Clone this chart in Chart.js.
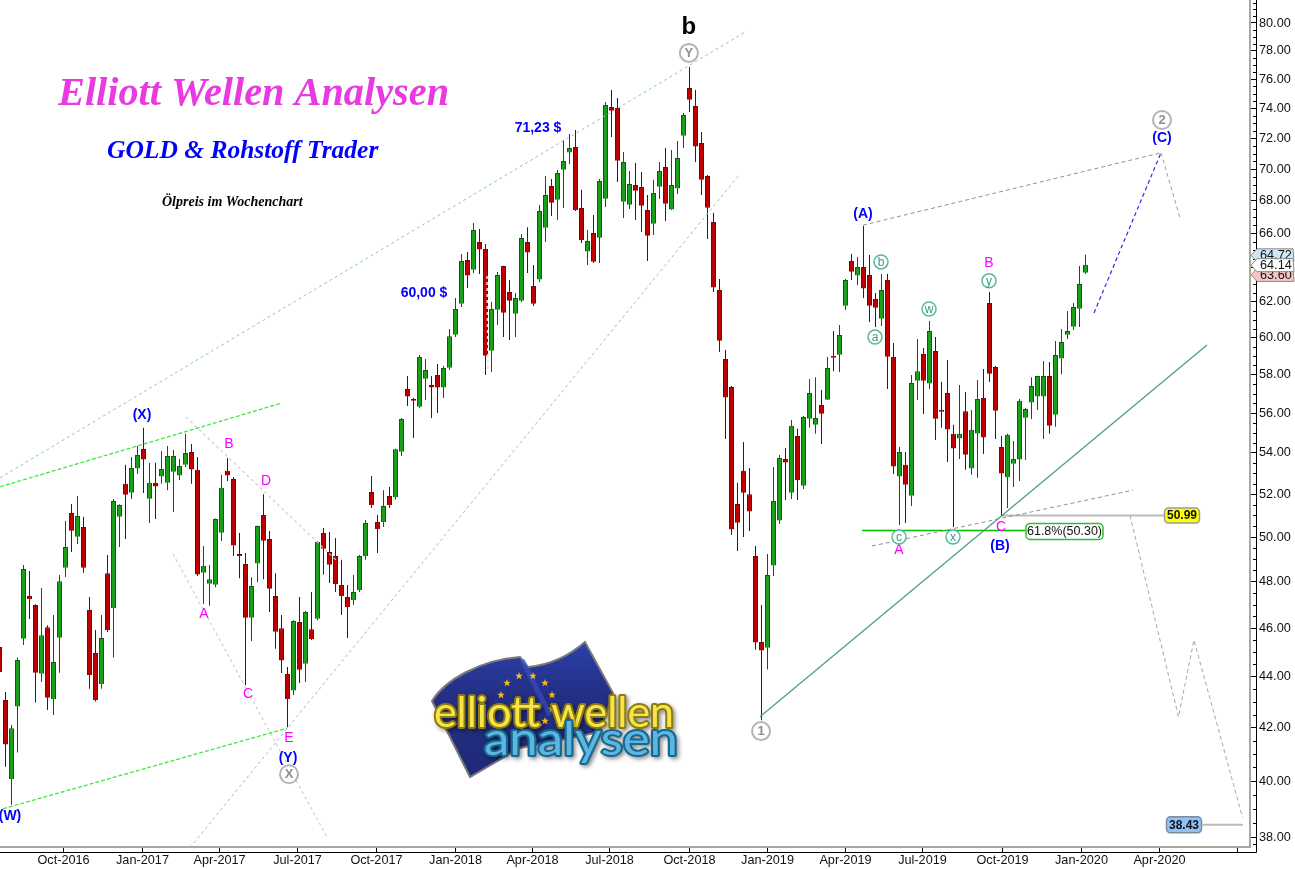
<!DOCTYPE html>
<html lang="de">
<head>
<meta charset="utf-8">
<title>Elliott Wellen Analysen</title>
<script src="https://cdn.jsdelivr.net/npm/chart.js@4/dist/chart.umd.js"></script>
<style>
  html, body { margin: 0; padding: 0; background: #fff; }
  canvas { display: block; }
</style>
</head>
<body>
<canvas id="chart" width="1295" height="869"></canvas>
<script>
// Wochenkerzen, erste Kerze liegt auf Woche -1
const ersteWoche = -1;
const opens = [
  45.22, 43.08, 40.07, 42.82, 45.56, 47.38, 46.99, 44.12, 46.04, 43.11,
  45.60, 48.62, 51.11, 50.01, 50.46, 46.77, 44.97, 43.71, 48.37, 46.85,
  50.94, 52.49, 52.06, 53.23, 54.19, 51.78, 52.54, 52.84, 52.55, 53.08,
  52.89, 53.42, 54.04, 53.17, 48.39, 47.91, 47.86, 50.20, 53.12, 52.73,
  49.23, 48.78, 46.44, 48.80, 51.02, 49.91, 47.38, 46.00, 44.11, 43.45,
  46.26, 44.53, 45.96, 46.40, 50.18, 49.32, 49.14, 47.85, 47.33, 47.20,
  47.63, 49.14, 52.10, 50.69, 50.69, 51.91, 51.85, 54.06, 57.25, 56.73,
  56.33, 57.79, 57.46, 57.98, 57.32, 58.37, 60.16, 61.89, 64.42, 63.84,
  65.48, 65.07, 59.29, 61.55, 64.06, 62.56, 61.33, 62.06, 65.48, 62.90,
  63.27, 66.34, 68.93, 68.06, 69.96, 71.06, 71.43, 67.55, 64.91, 66.02,
  65.74, 68.13, 74.08, 74.01, 67.94, 67.75, 68.99, 68.86, 67.43, 66.59,
  68.88, 70.13, 67.45, 68.76, 72.17, 75.39, 74.15, 71.69, 69.56, 66.69,
  62.67, 58.84, 57.35, 51.53, 53.12, 52.00, 49.14, 45.42, 45.19, 48.71,
  50.76, 53.70, 52.06, 54.84, 52.40, 55.71, 55.41, 56.42, 56.69, 59.00,
  59.07, 61.78, 64.36, 63.50, 64.00, 63.54, 62.16, 61.05, 63.25, 58.95,
  52.84, 53.41, 51.92, 57.68, 59.11, 57.53, 59.27, 56.16, 57.04, 54.95,
  54.71, 56.10, 53.23, 54.96, 56.78, 61.93, 58.41, 54.29, 52.81, 53.47,
  53.67, 55.76, 56.54, 56.85, 56.85, 57.93, 55.91, 58.86, 60.16, 60.60,
  61.61, 63.67
];
const highs = [
  45.51, 43.39, 42.10, 44.78, 48.74, 48.47, 47.02, 47.72, 46.13, 46.56,
  48.29, 50.74, 51.53, 51.91, 50.93, 47.33, 45.92, 46.56, 49.19, 51.77,
  51.52, 53.41, 53.80, 54.34, 55.25, 53.51, 53.51, 54.09, 54.34, 54.14,
  53.70, 54.95, 54.44, 53.80, 49.59, 48.74, 50.85, 52.93, 53.75, 52.82,
  50.18, 49.28, 48.20, 50.53, 52.00, 50.28, 48.37, 46.56, 44.40, 46.34,
  47.33, 46.73, 47.55, 49.82, 50.42, 50.23, 49.95, 48.97, 47.85, 48.29,
  49.19, 50.79, 52.87, 51.02, 52.19, 52.34, 54.20, 55.75, 57.93, 56.78,
  59.06, 58.84, 57.93, 58.57, 58.46, 60.48, 62.21, 64.77, 64.89, 66.63,
  66.26, 65.37, 61.98, 63.71, 64.08, 63.25, 62.50, 65.96, 66.37, 64.12,
  67.74, 69.56, 69.37, 69.94, 71.88, 72.28, 72.55, 68.68, 66.20, 67.12,
  69.37, 74.42, 75.25, 74.70, 71.10, 69.87, 70.39, 69.81, 68.36, 69.31,
  70.45, 71.36, 71.23, 71.82, 73.68, 76.85, 75.25, 72.41, 69.62, 67.25,
  63.31, 59.33, 57.41, 52.54, 54.54, 53.26, 49.59, 46.99, 49.23, 53.31,
  53.89, 54.24, 55.65, 55.20, 55.85, 57.77, 57.87, 57.20, 58.95, 60.36,
  60.70, 63.31, 64.77, 64.59, 66.44, 64.71, 62.50, 63.60, 63.60, 59.70,
  54.29, 54.04, 57.98, 59.92, 59.43, 60.92, 60.03, 57.61, 58.79, 55.40,
  57.46, 57.09, 56.16, 57.72, 58.30, 62.56, 58.46, 54.84, 54.95, 54.59,
  56.73, 56.26, 57.87, 57.95, 58.73, 58.68, 59.81, 60.48, 61.48, 61.93,
  64.06, 64.72
];
const lows = [
  43.87, 40.53, 39.14, 41.06, 45.30, 46.39, 42.98, 43.79, 42.69, 42.49,
  44.16, 48.21, 49.32, 49.68, 48.39, 43.52, 43.02, 43.52, 45.84, 44.78,
  49.55, 49.91, 51.77, 52.97, 52.05, 50.65, 50.83, 52.49, 52.19, 51.16,
  52.68, 53.31, 52.49, 48.25, 47.03, 46.95, 47.76, 49.82, 52.63, 49.14,
  48.15, 43.67, 45.47, 47.98, 48.11, 46.69, 45.14, 44.15, 42.02, 43.28,
  43.75, 43.79, 45.51, 46.34, 48.32, 47.94, 47.55, 46.56, 45.59, 46.99,
  47.55, 48.97, 51.35, 49.28, 50.46, 51.35, 51.75, 53.84, 56.36, 54.74,
  56.26, 56.68, 55.75, 56.00, 56.78, 58.25, 60.03, 61.70, 62.79, 63.65,
  63.60, 57.98, 58.14, 60.70, 60.03, 59.87, 60.03, 61.98, 63.65, 61.76,
  63.13, 65.48, 67.06, 66.82, 67.55, 70.32, 67.37, 65.42, 64.12, 64.24,
  64.24, 67.61, 72.08, 69.18, 66.94, 67.49, 66.82, 66.08, 64.36, 65.90,
  68.11, 66.75, 67.43, 68.42, 71.36, 73.75, 70.45, 68.36, 65.66, 62.56,
  59.22, 54.69, 50.09, 49.37, 50.00, 50.28, 45.10, 42.29, 44.30, 48.25,
  50.60, 51.72, 51.77, 51.72, 52.24, 55.25, 54.95, 54.44, 56.68, 58.19,
  58.14, 61.54, 63.25, 62.96, 62.21, 60.87, 60.59, 60.64, 57.25, 52.97,
  50.55, 50.65, 51.44, 56.68, 55.95, 57.25, 54.64, 55.25, 53.55, 50.46,
  53.70, 53.17, 52.93, 52.78, 53.94, 57.61, 54.69, 50.97, 51.35, 52.34,
  52.63, 53.65, 55.70, 56.16, 54.69, 54.95, 55.30, 58.03, 59.92, 60.42,
  60.59, 63.60
];
const closes = [
  44.19, 41.36, 41.98, 44.68, 48.56, 47.25, 44.16, 45.71, 43.17, 44.60,
  48.02, 49.55, 50.29, 50.97, 48.62, 44.07, 43.08, 45.59, 45.92, 51.67,
  51.49, 51.97, 53.26, 53.89, 53.67, 52.54, 52.36, 53.21, 53.84, 53.84,
  53.36, 53.99, 53.18, 48.32, 48.70, 48.11, 50.83, 52.30, 52.89, 49.61,
  49.14, 46.44, 47.81, 50.51, 49.83, 47.69, 45.85, 44.66, 43.12, 46.30,
  44.29, 46.69, 45.55, 49.77, 49.47, 48.75, 47.89, 47.38, 46.90, 47.55,
  49.14, 50.65, 51.49, 50.37, 51.44, 51.49, 54.18, 55.70, 56.85, 56.63,
  58.95, 58.25, 57.32, 57.32, 58.36, 60.08, 61.59, 64.36, 63.50, 66.20,
  65.03, 59.02, 61.59, 63.54, 61.38, 62.06, 62.21, 65.72, 64.85, 61.89,
  67.37, 68.36, 67.88, 69.75, 70.52, 71.36, 67.43, 65.60, 65.54, 64.31,
  69.24, 74.22, 73.83, 70.54, 70.45, 69.05, 68.63, 67.69, 65.86, 68.49,
  69.87, 67.82, 68.99, 70.71, 73.55, 74.58, 71.45, 69.32, 67.57, 62.81,
  59.83, 56.80, 50.34, 50.66, 52.06, 51.18, 45.40, 45.07, 48.29, 51.67,
  53.75, 53.52, 55.35, 52.66, 55.80, 57.04, 55.75, 55.96, 58.36, 58.91,
  60.14, 63.25, 63.73, 64.00, 62.75, 61.78, 61.66, 62.67, 58.96, 53.33,
  54.04, 52.45, 57.56, 58.19, 57.68, 60.36, 55.71, 56.07, 55.16, 54.21,
  54.95, 53.91, 55.15, 56.73, 54.76, 58.05, 56.12, 52.99, 54.90, 53.70,
  56.63, 56.21, 57.41, 57.93, 57.93, 55.36, 59.06, 59.76, 60.36, 61.70,
  63.02, 64.14
];

const priceTicks = [38, 40, 42, 44, 46, 48, 50, 52, 54, 56, 58, 60, 62, 64, 66, 68, 70, 72, 74, 76, 78, 80];
const quarterWeeks = [9.67, 22.83, 35.67, 48.67, 61.83, 75, 87.83, 100.67, 114, 127, 140, 152.83, 166.17, 179.33, 192.33, 205.33];
const quarterLabels = ['Oct-2016', 'Jan-2017', 'Apr-2017', 'Jul-2017', 'Oct-2017', 'Jan-2018', 'Apr-2018', 'Jul-2018',
  'Oct-2018', 'Jan-2019', 'Apr-2019', 'Jul-2019', 'Oct-2019', 'Jan-2020', 'Apr-2020', ''];

// Linien: [Woche, Preis]
const kanalOben = [[-0.92, 52.78], [123.58, 79.42]];
const kanalUnten = [[30.75, 37.64], [122.25, 69.62]];
const gruenOben = [[-0.92, 52.35], [46.08, 56.52]];
const gruenUnten = [[-0.42, 39.0], [46.92, 41.98]];
const grauAbwaerts = [[27.92, 49.23], [53.58, 38.0]];
const grauDreieck = [[30.08, 55.8], [55.75, 48.79]];
const trendLinie = [[125.75, 42.42], [200.25, 59.6]];
const dachLinie = [[142.92, 66.5], [192.58, 71.05]];
const bodenLinie = [[144.42, 49.59], [187.92, 52.19]];
const wellenC = [[181.42, 61.37], [192.58, 71.05]];
const nachC = [[192.58, 71.05], [195.75, 66.94]];
const prognose = [[187.42, 51.0], [195.5, 42.42], [198.08, 45.51], [206.17, 38.69]];
const fibLinie = [[142.75, 50.3], [169.92, 50.3]];
const level5099 = [[166.08, 50.99], [193.25, 50.99]];
const level3843 = [[199.5, 38.43], [206.25, 38.43]];
const punktLinie = [[80.25, 63.48], [80.42, 58.14]];

const ROT = '#BE0000';
const ROT_DUNKEL = '#5C0A0A';
const GRUEN = '#18A018';
const GRUEN_DUNKEL = '#0B5E0B';
const BLAU = '#0000FF';
const MAGENTA = '#FF00FF';
const TEAL = '#5DB89A';

const woche = (i) => i + ersteWoche;
const istHoch = (i) => closes[i] >= opens[i];

function linie(punkte, color, width, dash) {
  return {
    type: 'line',
    data: punkte.map(([x, y]) => ({ x, y })),
    borderColor: color,
    borderWidth: width,
    borderDash: dash,
    pointRadius: 0,
    tension: 0,
    order: 1,
  };
}

const textLabels = [
  { t: 'b', x: 113.9, y: 79.7, c: '#000', f: 'bold 24px "Liberation Sans"' },
  { t: '71,23 $', x: 88.75, y: 72.68, c: BLAU, f: 'bold 14px "Liberation Sans"' },
  { t: '60,00 $', x: 69.75, y: 62.5, c: BLAU, f: 'bold 14px "Liberation Sans"' },
  { t: '(X)', x: 22.75, y: 55.9, c: BLAU, f: 'bold 14px "Liberation Sans"' },
  { t: '(Y)', x: 47.08, y: 40.86, c: BLAU, f: 'bold 14px "Liberation Sans"' },
  { t: '(W)', x: 0.75, y: 38.75, c: BLAU, f: 'bold 14px "Liberation Sans"' },
  { t: '(A)', x: 142.92, y: 67.2, c: BLAU, f: 'bold 14px "Liberation Sans"' },
  { t: '(B)', x: 165.75, y: 49.59, c: BLAU, f: 'bold 14px "Liberation Sans"' },
  { t: '(C)', x: 192.75, y: 72.0, c: BLAU, f: 'bold 14px "Liberation Sans"' },
  { t: 'B', x: 37.25, y: 54.44, c: MAGENTA, f: '14px "Liberation Sans"' },
  { t: 'D', x: 43.42, y: 52.63, c: MAGENTA, f: '14px "Liberation Sans"' },
  { t: 'A', x: 33.08, y: 46.6, c: MAGENTA, f: '14px "Liberation Sans"' },
  { t: 'C', x: 40.42, y: 43.32, c: MAGENTA, f: '14px "Liberation Sans"' },
  { t: 'E', x: 47.25, y: 41.6, c: MAGENTA, f: '14px "Liberation Sans"' },
  { t: 'B', x: 163.92, y: 64.24, c: MAGENTA, f: '14px "Liberation Sans"' },
  { t: 'A', x: 148.92, y: 49.41, c: MAGENTA, f: '14px "Liberation Sans"' },
  { t: 'C', x: 165.92, y: 50.46, c: MAGENTA, f: '14px "Liberation Sans"' },
];

const ringLabels = [
  { t: 'Y', x: 113.9, y: 77.84, grau: true },
  { t: 'X', x: 47.25, y: 40.25, grau: true },
  { t: '1', x: 125.92, y: 41.87, grau: true },
  { t: '2', x: 192.75, y: 73.21, grau: true },
  { t: 'b', x: 145.92, y: 64.3 },
  { t: 'a', x: 144.92, y: 60.03 },
  { t: 'y', x: 163.92, y: 63.2 },
  { t: 'w', x: 153.92, y: 61.59 },
  { t: 'c', x: 148.92, y: 50.0 },
  { t: 'x', x: 157.92, y: 50.0 },
];

function stern(ctx, cx, cy, r) {
  ctx.beginPath();
  for (let i = 0; i < 10; i++) {
    const a = -Math.PI / 2 + i * Math.PI / 5;
    const rr = i % 2 ? r * 0.42 : r;
    ctx.lineTo(cx + rr * Math.cos(a), cy + rr * Math.sin(a));
  }
  ctx.closePath();
  ctx.fill();
}

// Schrift auf Zielbreite ziehen, das Logo hat sehr breite Buchstaben
function logoText(ctx, text, left, base, breite, fill, stroke) {
  const natural = ctx.measureText(text).width;
  ctx.save();
  ctx.translate(left, base);
  ctx.scale(breite / natural, 1);
  ctx.strokeStyle = stroke;
  ctx.strokeText(text, 0, 0);
  ctx.shadowColor = 'transparent';
  ctx.fillStyle = fill;
  ctx.fillText(text, 0, 0);
  ctx.restore();
}

function drawLogo(ctx) {
  ctx.save();
  ctx.beginPath();
  ctx.moveTo(432, 701);
  ctx.bezierCurveTo(445, 680, 480, 660, 520, 657);
  ctx.lineTo(528, 667);
  ctx.bezierCurveTo(550, 665, 570, 655, 585, 642);
  ctx.lineTo(613, 693);
  ctx.lineTo(600, 732);
  ctx.lineTo(520, 748);
  ctx.lineTo(470, 777);
  ctx.closePath();
  const g = ctx.createLinearGradient(0, 645, 0, 770);
  g.addColorStop(0, '#2B3FA8');
  g.addColorStop(0.4, '#242F84');
  g.addColorStop(1, '#1F2A78');
  ctx.fillStyle = g;
  ctx.strokeStyle = '#7A7A7A';
  ctx.lineWidth = 2;
  ctx.fill();
  ctx.stroke();
  ctx.strokeStyle = 'rgba(60,80,200,0.6)';
  ctx.lineWidth = 5;
  ctx.beginPath();
  ctx.moveTo(522, 660);
  ctx.lineTo(550, 715);
  ctx.stroke();
  ctx.fillStyle = '#F2B81E';
  [[507, 683], [519, 676], [533, 676], [545, 683], [552, 695], [552, 709], [545, 721], [501, 695], [507, 719]]
    .forEach(([x, y]) => stern(ctx, x, y, 4));

  ctx.lineJoin = 'round';
  ctx.textBaseline = 'alphabetic';
  ctx.textAlign = 'left';
  ctx.shadowColor = 'rgba(0,0,0,0.45)';
  ctx.shadowBlur = 4;
  ctx.shadowOffsetX = 2;
  ctx.shadowOffsetY = 2;
  ctx.lineWidth = 4;
  ctx.font = '42px Lato';
  logoText(ctx, 'elliott wellen', 434, 727, 240, '#F6E448', '#8C7C12');
  ctx.font = '46px Lato';
  logoText(ctx, 'analysen', 484, 755, 194, '#5DB6E2', '#17688F');
  ctx.restore();
}

function drawBox(ctx, text, cx, cy, w, h, fill, stroke, font) {
  ctx.beginPath();
  ctx.roundRect(cx - w / 2, cy - h / 2, w, h, 4);
  ctx.fillStyle = fill;
  ctx.fill();
  ctx.lineWidth = 1.5;
  ctx.strokeStyle = stroke;
  ctx.stroke();
  ctx.fillStyle = '#111';
  ctx.font = font;
  ctx.textAlign = 'center';
  ctx.textBaseline = 'middle';
  ctx.fillText(text, cx, cy + 0.5);
}

function drawPreisFahne(ctx, text, left, cy, fill) {
  ctx.beginPath();
  ctx.moveTo(left, cy);
  ctx.lineTo(left + 6, cy - 6.5);
  ctx.lineTo(left + 42, cy - 6.5);
  ctx.lineTo(left + 43, cy + 6.5);
  ctx.lineTo(left + 6, cy + 6.5);
  ctx.closePath();
  ctx.fillStyle = fill;
  ctx.fill();
  ctx.lineWidth = 1;
  ctx.strokeStyle = '#8A8A8A';
  ctx.stroke();
  ctx.fillStyle = '#111';
  ctx.font = '12.7px "Liberation Sans"';
  ctx.textAlign = 'left';
  ctx.textBaseline = 'middle';
  ctx.fillText(text, left + 9, cy + 0.5);
}

const dekorPlugin = {
  id: 'dekor',
  afterDraw(chart) {
    const { ctx, scales: { x, y }, chartArea } = chart;
    ctx.save();

    // Rahmen aussen und kleine Preisticks
    ctx.strokeStyle = '#000';
    ctx.lineWidth = 1;
    ctx.beginPath();
    ctx.moveTo(chartArea.right + 6.5, 0);
    ctx.lineTo(chartArea.right + 6.5, chartArea.bottom + 5.5);
    ctx.lineTo(0, chartArea.bottom + 5.5);
    for (let p = 38.5; p < 81.6; p += 0.5) {
      if (p % 2 === 0) continue;
      const py = Math.round(y.getPixelForValue(p)) + 0.5;
      ctx.moveTo(chartArea.right + 3, py);
      ctx.lineTo(chartArea.right + 6, py);
    }
    ctx.moveTo(chartArea.right + 3, Math.round(y.getPixelForValue(37.75)) + 0.5);
    ctx.lineTo(chartArea.right + 6, Math.round(y.getPixelForValue(37.75)) + 0.5);
    ctx.stroke();

    // Titelblock
    ctx.textBaseline = 'alphabetic';
    ctx.textAlign = 'left';
    ctx.fillStyle = '#E83AE0';
    ctx.font = 'italic bold 40.3px "Liberation Serif"';
    ctx.fillText('Elliott Wellen Analysen', 58, 105);
    ctx.fillStyle = BLAU;
    ctx.font = 'italic bold 25.5px "Liberation Serif"';
    ctx.fillText('GOLD & Rohstoff Trader', 107, 158);
    ctx.fillStyle = '#000';
    ctx.font = 'italic bold 14px "Liberation Serif"';
    ctx.fillText('Ölpreis im Wochenchart', 162, 206);

    drawLogo(ctx);

    // Wellen-Beschriftung
    ctx.textAlign = 'center';
    ctx.textBaseline = 'middle';
    textLabels.forEach((l) => {
      ctx.font = l.f;
      ctx.fillStyle = l.c;
      ctx.fillText(l.t, x.getPixelForValue(l.x), y.getPixelForValue(l.y));
    });
    ringLabels.forEach((l) => {
      const px = x.getPixelForValue(l.x);
      const py = y.getPixelForValue(l.y);
      ctx.beginPath();
      ctx.arc(px, py, l.grau ? 9 : 7, 0, Math.PI * 2);
      ctx.fillStyle = '#fff';
      ctx.fill();
      ctx.lineWidth = l.grau ? 2 : 1.5;
      ctx.strokeStyle = l.grau ? '#B4B4B4' : TEAL;
      ctx.stroke();
      ctx.fillStyle = l.grau ? '#8E8E8E' : '#3A9C80';
      ctx.font = l.grau ? 'bold 13px "Liberation Sans"' : '12px "Liberation Sans"';
      ctx.fillText(l.t, px, py + 0.5);
    });

    // Kursboxen
    drawBox(ctx, '61.8%(50.30)', 1064.5, y.getPixelForValue(50.3) + 1, 77, 16, '#fff', '#2DBE2D', '12.5px "Liberation Sans"');
    drawBox(ctx, '50.99', 1182, y.getPixelForValue(50.99), 35, 15, '#FFFF00', '#9A9A9A', 'bold 12px "Liberation Sans"');
    drawBox(ctx, '38.43', 1184, y.getPixelForValue(38.43), 35, 16, '#8FC1F5', '#7C8CA0', 'bold 12px "Liberation Sans"');

    // Fahnen rechts an der Preisachse
    const fx = chartArea.right + 1;
    drawPreisFahne(ctx, '64.72', fx, y.getPixelForValue(64.72) + 0.5, '#CFE6F7');
    drawPreisFahne(ctx, '63.60', fx, y.getPixelForValue(63.6) + 1, '#F5C4C4');
    drawPreisFahne(ctx, '64.14', fx, y.getPixelForValue(64.14) + 0.5, '#FFFFFF');
    ctx.restore();
  },
};

new Chart(document.getElementById('chart'), {
  data: {
    datasets: [
      {
        type: 'bar',
        data: opens.map((_, i) => ({ x: woche(i), y: [lows[i], highs[i]] })),
        backgroundColor: opens.map((_, i) => (istHoch(i) ? GRUEN_DUNKEL : ROT_DUNKEL)),
        borderWidth: 0,
        barThickness: 1,
        inflateAmount: 0,
        grouped: false,
        order: 4,
      },
      {
        type: 'bar',
        data: opens.map((_, i) => ({ x: woche(i), y: [opens[i], closes[i]] })),
        backgroundColor: opens.map((_, i) => (istHoch(i) ? GRUEN : ROT)),
        borderColor: opens.map((_, i) => (istHoch(i) ? GRUEN_DUNKEL : '#7A0505')),
        borderWidth: 1,
        barThickness: 5,
        inflateAmount: 0,
        grouped: false,
        order: 3,
      },
      linie(punktLinie, '#E2E2E2', 1.5, [3, 3]),
      linie(kanalOben, '#93C4B0', 1, [3, 3]),
      linie(kanalUnten, '#93C4B0', 1, [3, 3]),
      linie(gruenOben, '#33E633', 1.2, [4, 2]),
      linie(gruenUnten, '#33E633', 1.2, [4, 2]),
      linie(grauAbwaerts, '#CFCFCF', 1.2, [3, 3]),
      linie(grauDreieck, '#CFCFCF', 1.2, [3, 3]),
      linie(trendLinie, '#4F9F7F', 1.3, []),
      linie(dachLinie, '#909090', 1, [4, 3]),
      linie(bodenLinie, '#909090', 1, [4, 3]),
      linie(wellenC, '#2A2AF0', 1.2, [4, 3]),
      linie(nachC, '#A0A0A0', 1, [4, 3]),
      linie(prognose, '#A6A6A6', 1, [4, 3]),
      linie(fibLinie, '#00BE00', 1.3, []),
      linie(level5099, '#BBBBBB', 2, []),
      linie(level3843, '#BBBBBB', 2, []),
    ],
  },
  options: {
    responsive: false,
    animation: false,
    events: [],
    layout: { padding: 0 },
    plugins: { legend: { display: false }, tooltip: { enabled: false } },
    scales: {
      x: {
        type: 'linear',
        position: 'bottom',
        min: -0.9167,
        max: 207.4167,
        bounds: 'data',
        offset: false,
        grid: { offset: false, drawOnChartArea: false, drawTicks: true, tickLength: 5, tickColor: '#000' },
        border: { color: '#A8A89C', width: 2 },
        afterFit(scale) {
          scale.height = 22;
          scale.paddingLeft = 0;
          scale.paddingRight = 0;
        },
        afterBuildTicks(scale) { scale.ticks = quarterWeeks.map((value) => ({ value })); },
        ticks: {
          autoSkip: false,
          maxRotation: 0,
          minRotation: 0,
          padding: 1,
          color: '#111',
          font: { family: '"Liberation Sans"', size: 12.7 },
          callback: (value, index) => quarterLabels[index],
        },
      },
      y: {
        type: 'logarithmic',
        position: 'right',
        min: 37.66,
        max: 81.7,
        bounds: 'data',
        grid: { drawOnChartArea: false, drawTicks: true, tickLength: 6, tickColor: '#000' },
        border: { color: '#A8A89C', width: 2 },
        afterFit(scale) {
          scale.width = 45;
          scale.paddingTop = 0;
          scale.paddingBottom = 0;
        },
        afterBuildTicks(scale) { scale.ticks = priceTicks.map((value) => ({ value })); },
        ticks: {
          autoSkip: false,
          padding: 3,
          color: '#111',
          font: { family: '"Liberation Sans"', size: 12.7 },
          callback: (value) => Number(value).toFixed(2),
        },
      },
    },
  },
  plugins: [dekorPlugin],
});
</script>
</body>
</html>
